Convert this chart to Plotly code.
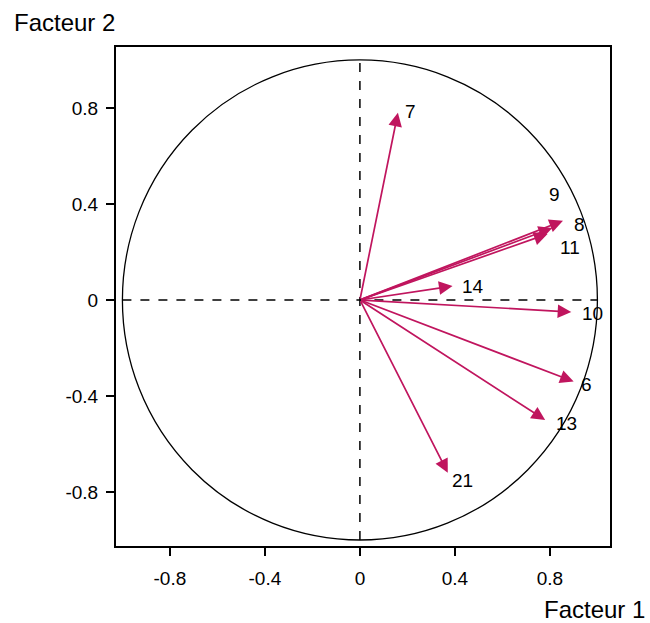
import plotly.graph_objects as go

variables = ["7", "9", "8", "11", "14", "10", "6", "13", "21"]
facteur1 = [0.16, 0.81, 0.855, 0.79, 0.39, 0.89, 0.90, 0.78, 0.37]
facteur2 = [0.78, 0.30, 0.33, 0.275, 0.058, -0.05, -0.34, -0.50, -0.72]
tick_vals = [-0.8, -0.4, 0, 0.4, 0.8]
tick_text = ["-0.8", "-0.4", "0", "0.4", "0.8"]

# label offsets in pixels (dx right, dy up)
label_offsets = {
    "7": (13, 1), "9": (2, 33), "8": (17, -4), "11": (22, -14),
    "14": (20, 0), "10": (21, -2), "6": (13, -3), "13": (21, -4), "21": (15, -8),
}

ARROW = "#c0155e"
FONT = "Liberation Sans, Arial, sans-serif"

W, H = 650, 623
ml, mr, mt, mb = 116, 40, 47, 77
pw, ph = W - ml - mr, H - mt - mb


def px_to_paper(px, py):
    return (px - ml) / pw, (H - mb - py) / ph


fig = go.Figure()
fig.add_trace(go.Scatter(x=[0], y=[0], mode="markers",
                         marker=dict(size=1, color="rgba(0,0,0,0)"),
                         showlegend=False, hoverinfo="skip"))

shapes = [
    dict(type="circle", xref="x", yref="y", x0=-1, y0=-1, x1=1, y1=1,
         line=dict(color="black", width=1.3)),
    dict(type="line", xref="x", yref="y", x0=-1, y0=0, x1=1, y1=0,
         line=dict(color="black", width=1.5, dash="dash")),
    dict(type="line", xref="x", yref="y", x0=0, y0=-1, x1=0, y1=1,
         line=dict(color="black", width=1.5, dash="dash")),
]

annotations = []
for name, fx, fy in zip(variables, facteur1, facteur2):
    annotations.append(dict(
        x=fx, y=fy, xref="x", yref="y", ax=0, ay=0, axref="x", ayref="y",
        showarrow=True, arrowhead=2, arrowsize=1.6, arrowwidth=1.7,
        arrowcolor=ARROW, text="", standoff=0,
    ))
    dx, dy = label_offsets[name]
    annotations.append(dict(
        x=fx, y=fy, xref="x", yref="y", text=name, showarrow=False,
        xshift=dx, yshift=dy, xanchor="center", yanchor="middle",
        font=dict(family=FONT, size=19, color="black"),
    ))

fx2, fy2 = px_to_paper(64, 22)
fx1, fy1 = px_to_paper(594, 609)
annotations.append(dict(text="Facteur 2", x=fx2, y=fy2, xref="paper", yref="paper",
                        showarrow=False, xanchor="center", yanchor="middle",
                        font=dict(family=FONT, size=24, color="black")))
annotations.append(dict(text="Facteur 1", x=fx1, y=fy1, xref="paper", yref="paper",
                        showarrow=False, xanchor="center", yanchor="middle",
                        font=dict(family=FONT, size=24, color="black")))

fig.update_layout(
    width=W, height=H,
    margin=dict(l=ml, r=mr, t=mt, b=mb),
    plot_bgcolor="white", paper_bgcolor="white",
    shapes=shapes, annotations=annotations, showlegend=False,
    xaxis=dict(range=[-1.027, 1.053], tickvals=tick_vals, ticktext=tick_text,
               showgrid=False, zeroline=False, showline=True, mirror=True,
               linecolor="black", linewidth=2, ticks="outside", ticklen=8,
               tickcolor="black", tickwidth=1.5, ticklabelstandoff=6,
               tickfont=dict(family=FONT, size=19, color="black")),
    yaxis=dict(range=[-1.025, 1.054], tickvals=tick_vals, ticktext=tick_text,
               showgrid=False, zeroline=False, showline=True, mirror=True,
               linecolor="black", linewidth=2, ticks="outside", ticklen=8,
               tickcolor="black", tickwidth=1.5, ticklabelstandoff=4,
               tickfont=dict(family=FONT, size=19, color="black")),
)

fig.write_html("out.html")
